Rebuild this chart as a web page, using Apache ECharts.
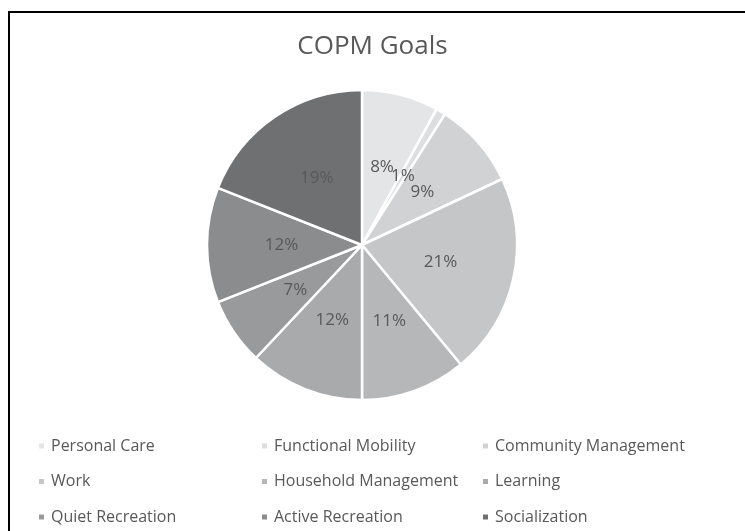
<!DOCTYPE html>
<html>
<head>
<meta charset="utf-8">
<style>
  html, body { margin: 0; padding: 0; background: #fff; }
  #chart { width: 745px; height: 531px; }
</style>
<script src="https://cdn.jsdelivr.net/npm/echarts@6/dist/echarts.min.js"></script>
</head>
<body>
<div id="chart"></div>
<script>
// categories in slice order (clockwise from 12 o'clock)
var categories = ['Personal Care', 'Functional Mobility', 'Community Management', 'Work',
  'Household Management', 'Learning', 'Quiet Recreation', 'Active Recreation', 'Socialization']
// share of goals, percent
var goalShare = [8, 1, 9, 21, 11, 12, 7, 12, 19]
var sliceColors = ['#e4e5e7', '#dddedf', '#d1d2d4', '#c5c6c8', '#b6b7b9',
  '#a9aaac', '#999a9c', '#8b8c8e', '#6f7072']

var chart = echarts.init(document.getElementById('chart'))

var textColor = '#595959'
var font = "'Open Sans', sans-serif"

// legend is laid out in 3 columns, filled row by row
var legendCols = [32, 255, 476]
var legends = legendCols.map(function(x, col) {
  return {
    orient: 'vertical',
    left: x,
    top: 432,
    height: 110,
    itemWidth: 7,
    itemHeight: 7,
    itemGap: 17.5,
    icon: 'rect',
    selectedMode: false,
    data: categories.filter(function(c, i) { return i % 3 === col }),
    textStyle: {
      color: textColor,
      fontSize: 16,
      fontFamily: font,
      lineHeight: 18,
      padding: [0, 0, 0, 1]
    }
  }
})

chart.setOption({
  backgroundColor: '#fff',
  animation: false,
  color: sliceColors,
  title: {
    text: 'COPM Goals',
    left: 'center',
    top: 29,
    textStyle: {
      color: textColor,
      fontSize: 26,
      fontWeight: 'normal',
      fontFamily: font
    }
  },
  legend: legends,
  graphic: [{
    type: 'rect',
    shape: { x: 9, y: 12, width: 800, height: 600 },
    style: { fill: 'none', stroke: '#000', lineWidth: 2 },
    silent: true
  }],
  series: [{
    type: 'pie',
    center: [362, 245],
    radius: 155,
    startAngle: 90,
    clockwise: true,
    avoidLabelOverlap: false,
    labelLayout: { hideOverlap: false },
    label: {
      show: true,
      position: 'inside',
      color: textColor,
      fontSize: 17,
      fontFamily: font,
      formatter: function(p) { return Math.round(p.percent) + '%' }
    },
    labelLine: { show: false },
    itemStyle: { borderColor: '#fff', borderWidth: 2.5 },
    emphasis: { disabled: true },
    data: categories.map(function(name, i) {
      return { name: name, value: goalShare[i] }
    })
  }]
})
</script>
</body>
</html>
